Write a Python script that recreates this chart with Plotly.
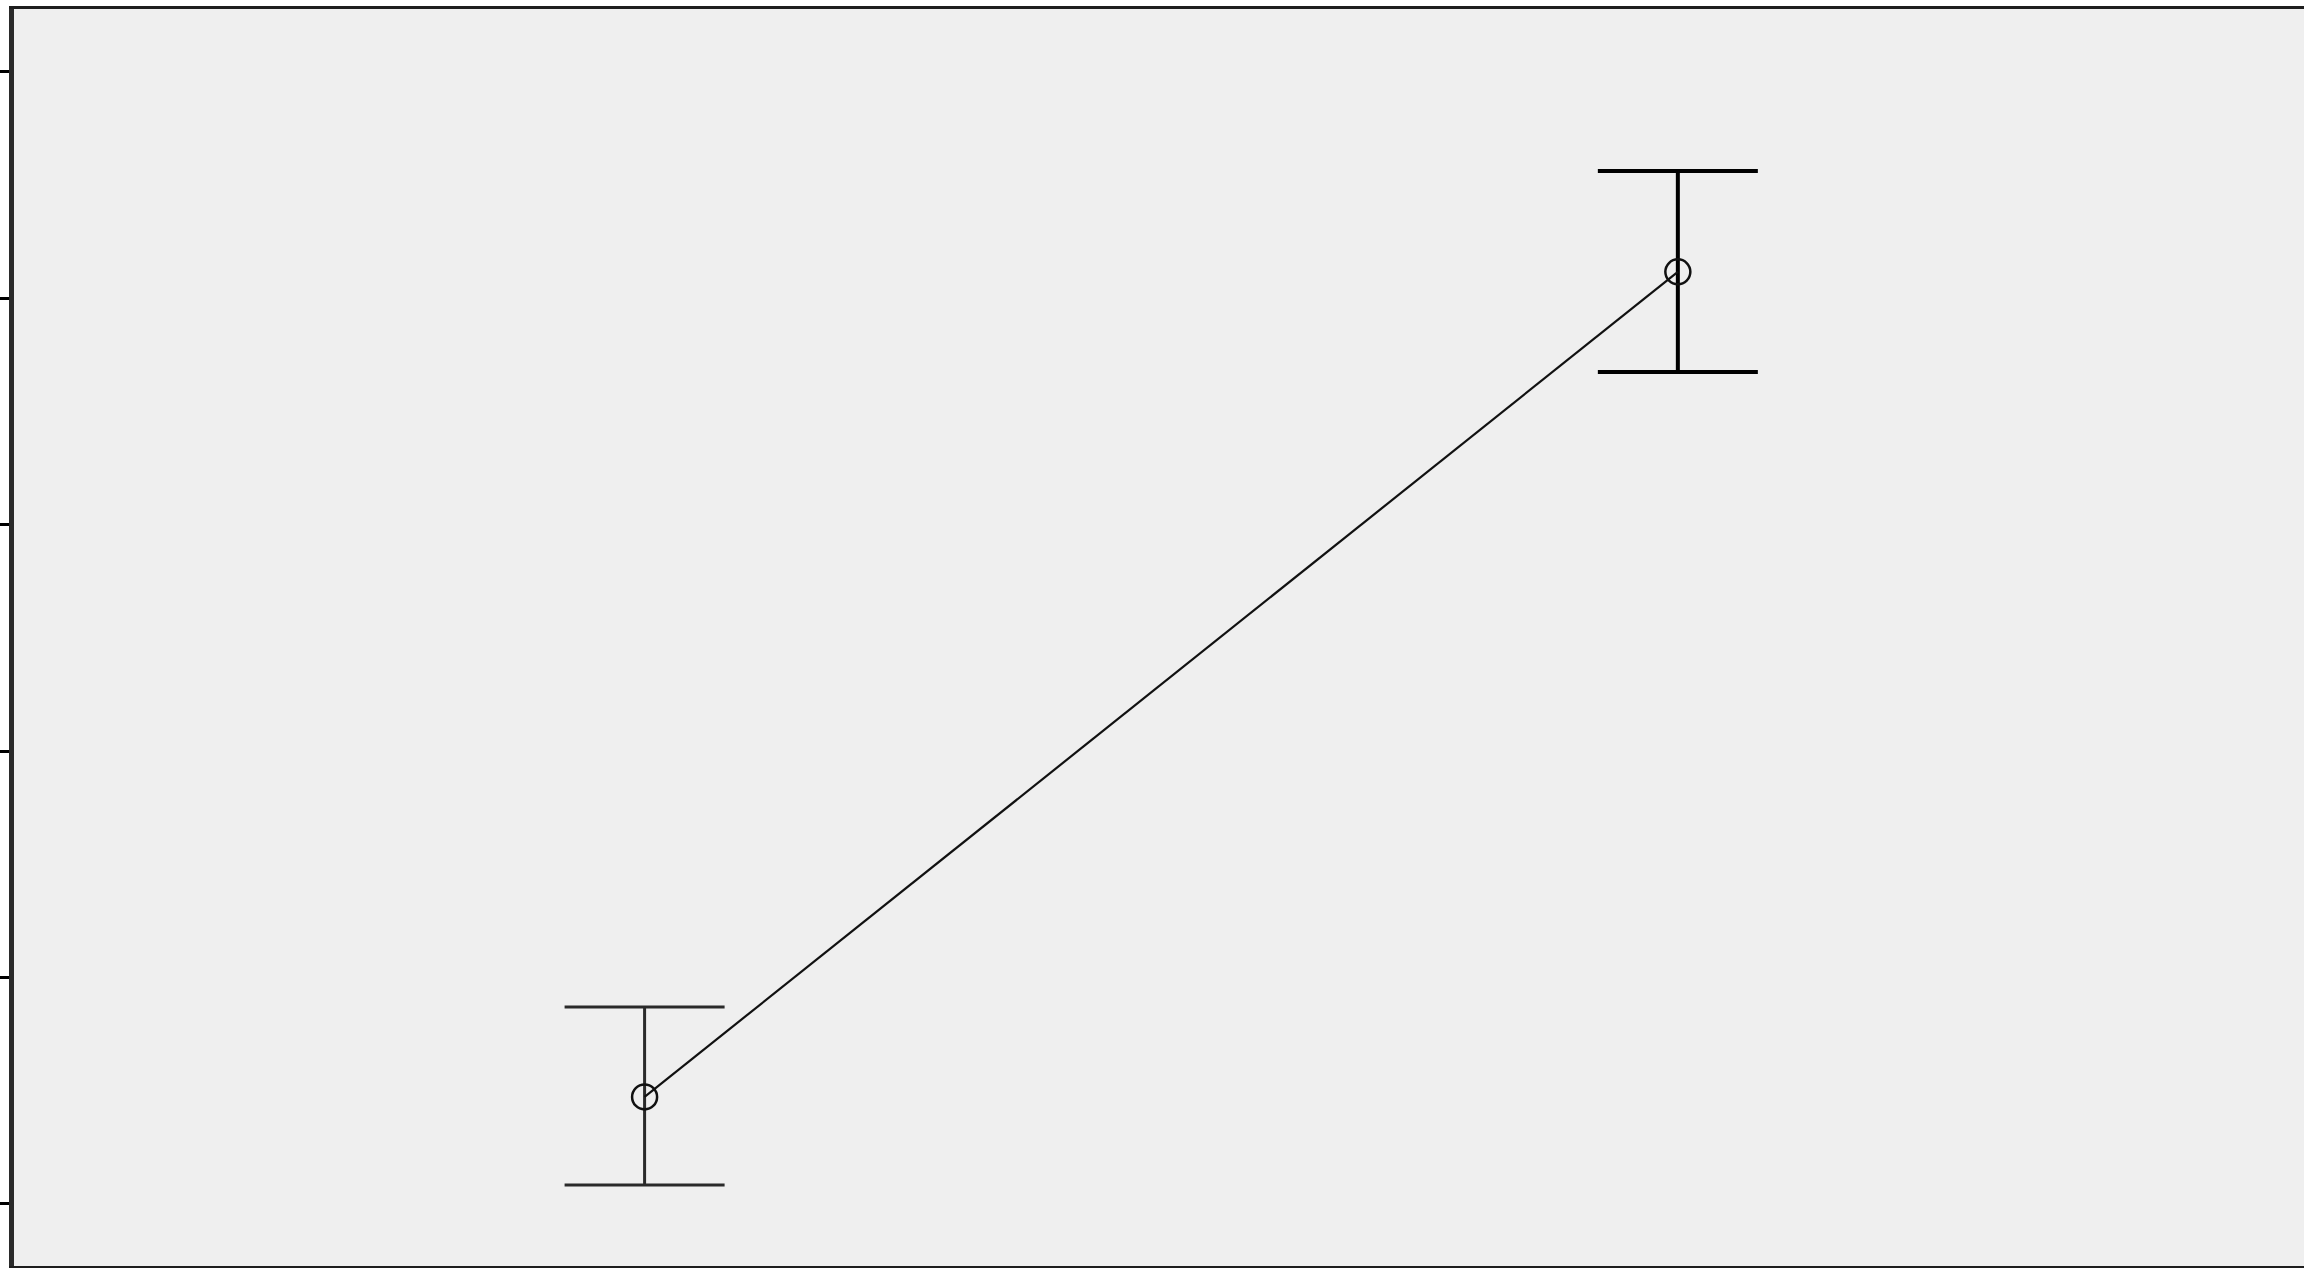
import plotly.graph_objects as go

# Group positions and their means with error-bar extents
groups = [1, 2]
means = [0.473, 4.117]
err_plus = [0.397, 0.446]
err_minus = [0.389, 0.442]

# Y-axis tick positions (labels are not drawn)
y_ticks = [0, 1, 2, 3, 4, 5]

fig = go.Figure()

# Error bars for each group, drawn individually so each keeps its own weight
bar_colors = ["#2a2a2a", "#000000"]
bar_thick = [3, 4]
for gx, m, ep, em, c, t in zip(groups, means, err_plus, err_minus, bar_colors, bar_thick):
    fig.add_trace(go.Scatter(
        x=[gx], y=[m], mode="markers",
        marker=dict(size=1, color="rgba(0,0,0,0)"),
        error_y=dict(type="data", symmetric=False, array=[ep], arrayminus=[em],
                     color=c, thickness=t, width=80),
        showlegend=False, hoverinfo="skip",
    ))

# Line connecting the group means with open circle markers
fig.add_trace(go.Scatter(
    x=groups, y=means, mode="lines+markers",
    line=dict(color="#111111", width=2.2),
    marker=dict(symbol="circle-open", size=25, color="#111111", line=dict(width=2.5)),
    showlegend=False,
))

fig.update_layout(
    width=2304, height=1268,
    margin=dict(l=14, r=0, t=9, b=2),
    paper_bgcolor="white",
    plot_bgcolor="#efefef",
    xaxis=dict(range=[0.3897, 2.606], showgrid=False, zeroline=False,
               showticklabels=False, ticks="",
               showline=True, linecolor="#1e1e1e", linewidth=3, mirror=True),
    yaxis=dict(range=[-0.274, 5.278], showgrid=False, zeroline=False,
               tickvals=y_ticks, showticklabels=False,
               ticks="outside", ticklen=11, tickwidth=3, tickcolor="#000000",
               showline=True, linecolor="#2a2a2a", linewidth=5, mirror=False),
)

fig.write_html("out.html")
